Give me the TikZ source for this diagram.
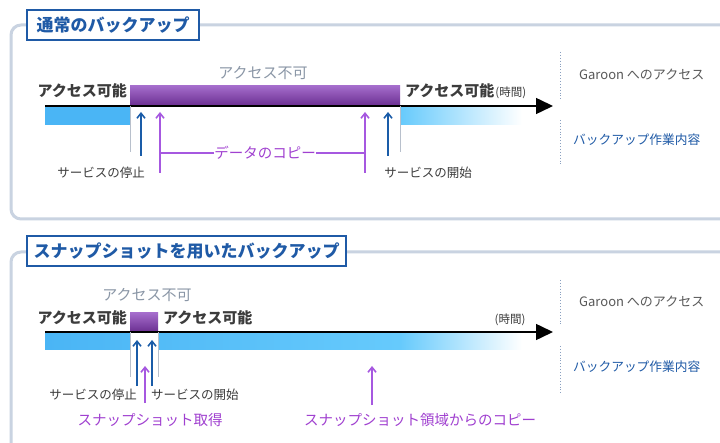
\documentclass[tikz,border=0pt]{standalone}
\usepackage{fontspec}
\setmainfont{Noto Sans CJK JP}
\usetikzlibrary{arrows.meta}
\definecolor{panelc}{HTML}{C9D3E1}
\definecolor{titleblue}{HTML}{1F5AA6}
\definecolor{txtdark}{HTML}{3C3C3C}
\definecolor{txtgray}{HTML}{8A96A6}
\definecolor{purptxt}{HTML}{A040D0}
\definecolor{purparr}{HTML}{A658E0}
\definecolor{bluearr}{HTML}{1A5CA8}
\definecolor{barblue}{HTML}{4AB5F5}
\definecolor{barblue2}{HTML}{66CAFC}
\definecolor{purptop}{HTML}{A46CCB}
\definecolor{purpbot}{HTML}{6A2E90}
\definecolor{dotc}{HTML}{8AA0C0}
\definecolor{vline}{HTML}{B8C0CC}
\begin{document}
\begin{tikzpicture}[x=1pt,y=-1pt,
  panel/.style={draw=panelc,line width=3pt,rounded corners=10pt},
  titlebox/.style={draw=titleblue,fill=white,line width=1.2pt,inner sep=0pt,minimum height=30pt,text=titleblue,font=\fontsize{17}{20}\selectfont\bfseries},
  okt/.style={font=\fontsize{15}{18}\selectfont\bfseries,text=txtdark,inner sep=0pt},
  ngt/.style={font=\fontsize{15}{18}\selectfont,text=txtgray,inner sep=0pt},
  svc/.style={font=\fontsize{12.5}{15}\selectfont,text=txtdark,inner sep=0pt},
  ptxt/.style={font=\fontsize{14.5}{17}\selectfont,text=purptxt,inner sep=0pt},
  legg/.style={font=\fontsize{13}{15}\selectfont,text=txtdark!85,inner sep=0pt},
  legb/.style={font=\fontsize{12.7}{15}\selectfont,text=titleblue,inner sep=0pt},
  timeline/.style={line width=1.5pt,-{Triangle[length=17pt,width=16pt]}},
  barr/.style={draw=bluearr,line width=1.6pt,-{Straight Barb[length=5pt,width=8pt]}},
  parr/.style={draw=purparr,line width=1.6pt,-{Straight Barb[length=5pt,width=8pt]}},
  sep/.style={draw=vline,line width=1pt},
  dots/.style={draw=dotc,dotted,line width=0.9pt}]
\useasboundingbox (0,0) rectangle (720,443);
\fill[white] (0,0) rectangle (720,443);
% panels
\draw[panel] (11,25) rectangle (735,219);
\draw[panel] (11,252) rectangle (735,460);
\node[titlebox,minimum width=172pt] (t1) at (113,25) {通常のバックアップ};
\node[titlebox,minimum width=319pt] (t2) at (186.5,251) {スナップショットを用いたバックアップ};

% ===== panel 1 =====
\fill[barblue] (45,106) rectangle (130,125);
\shade[left color=barblue2,right color=white] (400,106) rectangle (522,125);
\shade[top color=purptop,bottom color=purpbot] (130,86) rectangle (400,106);
\coordinate (l1s) at (45,106);
\coordinate (l1e) at (553,106);
\draw[timeline] (l1s) -- (l1e);
\draw[sep] (130,106) -- (130,152);
\draw[sep] (400,106) -- (400,152);
\node[okt,anchor=east] (ok1) at (127,91) {アクセス可能};
\node[ngt] (ng1) at (263,73) {アクセス不可};
\node[okt,anchor=west] (ok2) at (405,91) {アクセス可能\hspace{1pt}{\fontsize{11.5}{12}\selectfont\mdseries(時間)}};
\coordinate (a1b) at (141,156); \coordinate (a1t) at (141,112);
\coordinate (a2b) at (388,156); \coordinate (a2t) at (388,112);
\draw[barr] (a1b) -- (a1t);
\draw[barr] (a2b) -- (a2t);
\coordinate (p1b) at (160,173); \coordinate (p1t) at (160,112);
\coordinate (p2b) at (365,173); \coordinate (p2t) at (365,112);
\draw[parr] (p1b) -- (p1t);
\draw[parr] (p2b) -- (p2t);
\node[ptxt] (copy1) at (265,153) {データのコピー};
\draw[purparr,line width=1.3pt] (160,153) -- (copy1.west);
\draw[purparr,line width=1.3pt] (copy1.east) -- (365,153);
\node[svc] (stop1) at (101,173) {サービスの停止};
\node[svc] (start1) at (428,173) {サービスの開始};
\draw[dots] (560,52) -- (560,100);
\draw[dots] (560,120) -- (560,165);
\node[legg,anchor=west] (g1) at (579,75) {Garoon へのアクセス};
\node[legb,anchor=west] (b1) at (573,140) {バックアップ作業内容};

% ===== panel 2 =====
\shade[left color=barblue,right color=barblue2] (45,332) rectangle (400,350);
\shade[left color=barblue2,right color=white] (400,332) rectangle (522,350);
\fill[white] (130,332) rectangle (158,350);
\shade[top color=purptop,bottom color=purpbot] (130,313) rectangle (158,332);
\coordinate (l2s) at (45,332);
\coordinate (l2e) at (553,332);
\draw[timeline] (l2s) -- (l2e);
\draw[sep] (130,332) -- (130,377);
\draw[sep] (158,332) -- (158,377);
\node[ngt] (ng2) at (147,295) {アクセス不可};
\node[okt,anchor=east] (ok3) at (127,318) {アクセス可能};
\node[okt,anchor=west] (ok4) at (163,318) {アクセス可能};
\node[font=\fontsize{11.5}{12}\selectfont,text=txtdark,inner sep=0pt] (time2) at (510,320) {(時間)};
\coordinate (a3b) at (137,386); \coordinate (a3t) at (137,340);
\coordinate (a4b) at (152,386); \coordinate (a4t) at (152,340);
\draw[barr] (a3b) -- (a3t);
\draw[barr] (a4b) -- (a4t);
\coordinate (p3b) at (145,403); \coordinate (p3t) at (145,366);
\draw[parr] (p3b) -- (p3t);
\coordinate (p4b) at (372,405); \coordinate (p4t) at (372,366);
\draw[parr] (p4b) -- (p4t);
\node[svc,anchor=east] (stop2) at (137,395) {サービスの停止};
\node[svc,anchor=west] (start2) at (151,395) {サービスの開始};
\node[ptxt] (snap) at (150,420) {スナップショット取得};
\node[ptxt] (snapcopy) at (420,420) {スナップショット領域からのコピー};
\draw[dots] (560,280) -- (560,326);
\draw[dots] (560,346) -- (560,393);
\node[legg,anchor=west] (g2) at (579,302) {Garoon へのアクセス};
\node[legb,anchor=west] (b2) at (573,367) {バックアップ作業内容};
\end{tikzpicture}
\end{document}
